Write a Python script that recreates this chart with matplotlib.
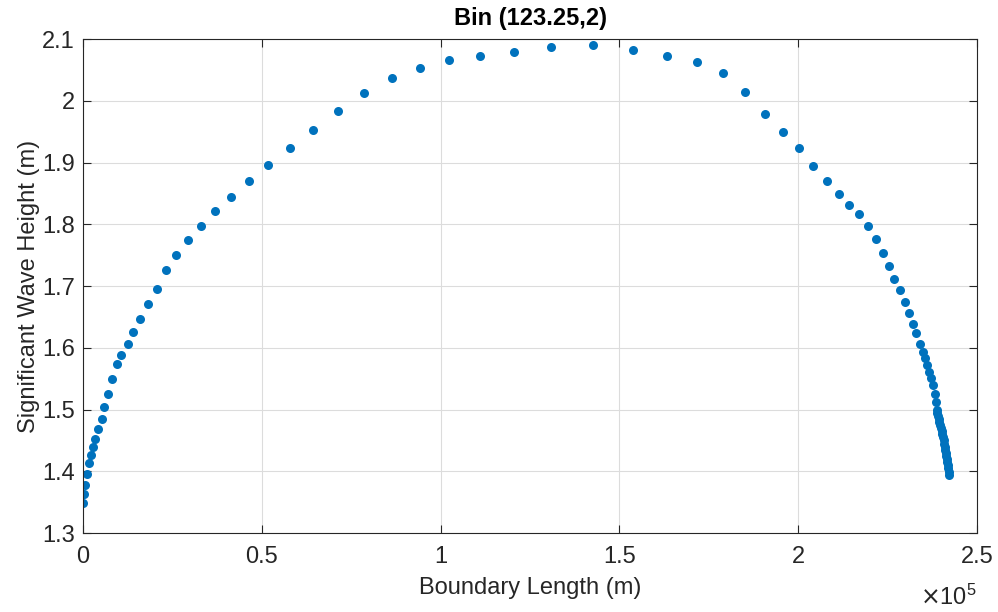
import matplotlib.pyplot as plt
from matplotlib.ticker import FuncFormatter
import numpy as np

plt.rcParams['font.family'] = ['Liberation Sans', 'DejaVu Sans']

# Boundary length (x 1e5 m) and significant wave height (m)
boundary_len = [
    0.001, 0.004, 0.006, 0.012, 0.018, 0.022, 0.029, 0.034, 0.042, 0.052,
    0.059, 0.070, 0.082, 0.095, 0.107, 0.126, 0.140, 0.159, 0.183, 0.206,
    0.231, 0.261, 0.294, 0.330, 0.369, 0.415, 0.465, 0.518, 0.578, 0.644,
    0.714, 0.787, 0.865, 0.942, 1.023, 1.109, 1.204, 1.308, 1.426, 1.537,
    1.633, 1.717, 1.789, 1.851, 1.907, 1.957, 2.003, 2.042, 2.081, 2.113,
    2.143, 2.169, 2.194, 2.217, 2.238, 2.254, 2.269, 2.285, 2.298, 2.310,
    2.320, 2.329, 2.341, 2.348, 2.354, 2.359, 2.366, 2.371, 2.378, 2.383,
    2.385, 2.387, 2.389, 2.391, 2.393, 2.395, 2.397, 2.399, 2.401, 2.403,
    2.405, 2.407, 2.408, 2.410, 2.411, 2.413, 2.414, 2.416, 2.417, 2.419,
    2.420, 2.421, 2.422,
]
wave_height = [
    1.349, 1.364, 1.378, 1.395, 1.413, 1.427, 1.440, 1.453, 1.469, 1.485,
    1.504, 1.525, 1.549, 1.574, 1.588, 1.606, 1.625, 1.647, 1.671, 1.696,
    1.726, 1.750, 1.774, 1.798, 1.822, 1.845, 1.870, 1.896, 1.923, 1.953,
    1.984, 2.012, 2.037, 2.054, 2.066, 2.073, 2.080, 2.088, 2.091, 2.083,
    2.073, 2.063, 2.045, 2.015, 1.978, 1.949, 1.923, 1.895, 1.870, 1.850,
    1.832, 1.817, 1.797, 1.777, 1.754, 1.733, 1.712, 1.694, 1.675, 1.656,
    1.638, 1.624, 1.607, 1.594, 1.583, 1.572, 1.561, 1.551, 1.540, 1.525,
    1.513, 1.500, 1.495, 1.490, 1.485, 1.480, 1.475, 1.470, 1.465, 1.460,
    1.455, 1.450, 1.445, 1.440, 1.435, 1.430, 1.425, 1.420, 1.415, 1.410,
    1.405, 1.399, 1.394,
]

x = np.array(boundary_len) * 1e5
y = np.array(wave_height)

fig = plt.figure(figsize=(9.98, 6.12), dpi=100)
ax = fig.add_axes([0.0832, 0.129, 0.8958, 0.807])

ax.plot(x, y, 'o', color='#0072BD', markersize=6.5, markeredgewidth=0, linestyle='none')

ax.set_xlim(0, 2.5e5)
ax.set_ylim(1.3, 2.1)
ax.set_xticks(np.arange(0, 2.51e5, 0.5e5))
ax.set_yticks(np.arange(1.3, 2.101, 0.1))
ax.xaxis.set_major_formatter(FuncFormatter(lambda v, p: f'{v / 1e5:g}'))
ax.yaxis.set_major_formatter(FuncFormatter(lambda v, p: f'{v:g}'))

ax.grid(True, color='#dcdcdc', linewidth=0.8)
ax.set_axisbelow(True)
ax.tick_params(direction='in', top=True, right=True, length=6, width=0.8,
               labelsize=17, colors='#262626', labelcolor='#262626')
ax.tick_params(axis='x', pad=9)
ax.tick_params(axis='y', pad=6)
for s in ax.spines.values():
    s.set_color('#262626')
    s.set_linewidth(0.8)

ax.set_xlabel('Boundary Length (m)', fontsize=17, color='#262626', labelpad=7)
ax.set_ylabel('Significant Wave Height (m)', fontsize=17, color='#262626', labelpad=1)
ax.set_title('Bin (123.25,2)', fontsize=17, fontweight='bold', pad=10)
ax.text(1.0, -0.145, r'$\times\mathregular{10^5}$', transform=ax.transAxes,
        ha='right', va='baseline', fontsize=17, color='#262626')

fig.savefig('out.png', dpi=100)
